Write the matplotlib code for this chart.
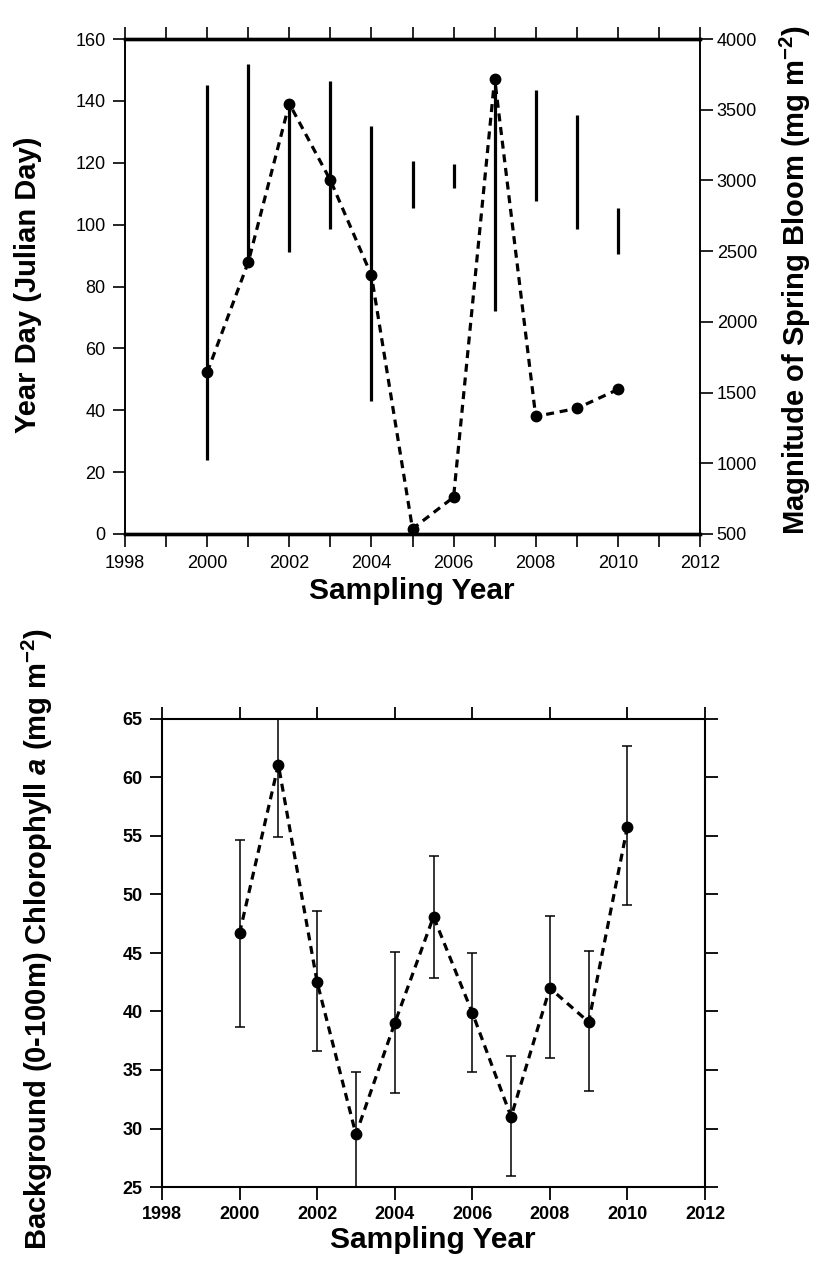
import numpy as np
import matplotlib
matplotlib.use('Agg')
import matplotlib.pyplot as plt

plt.rcParams['font.family'] = ['Liberation Sans', 'DejaVu Sans']
plt.rcParams['mathtext.fontset'] = 'custom'
plt.rcParams['mathtext.rm'] = 'Liberation Sans:bold'
plt.rcParams['mathtext.it'] = 'Liberation Sans:italic:bold'
plt.rcParams['mathtext.bf'] = 'Liberation Sans:bold'

############################# DATA #############################
years = [2000, 2001, 2002, 2003, 2004, 2005, 2006, 2007, 2008, 2009, 2010]

# spring bloom timing (year day range)
bloom_start = [24, 88, 91, 98.5, 43, 105.5, 112, 72, 107.5, 98.5, 90.5]
bloom_end = [145, 152, 139, 146.5, 132, 120.5, 119.5, 147, 143.5, 135.5, 105.5]

# magnitude of spring bloom (mg m-2)
magnitude = [1642, 2421, 3543, 3002, 2329, 537, 760, 3720, 1331, 1388, 1522]

# background chlorophyll a (mg m-2) with error range
chl = [46.7, 61.1, 42.5, 29.5, 39.0, 48.1, 39.9, 31.0, 42.0, 39.1, 55.8]
chl_lo = [38.7, 54.9, 36.6, 24.2, 33.0, 42.9, 34.8, 25.9, 36.0, 33.2, 49.1]
chl_hi = [54.7, 67.3, 48.6, 34.8, 45.1, 53.3, 45.0, 36.2, 48.2, 45.2, 62.7]

xticks = [1998, 2000, 2002, 2004, 2006, 2008, 2010, 2012]

W, H = 822, 1271
fig = plt.figure(figsize=(W / 100, H / 100), dpi=100)


def px_axes(x0, y0, x1, y1):
    return fig.add_axes([x0 / W, 1 - y1 / H, (x1 - x0) / W, (y1 - y0) / H])


############################# TOP PANEL #############################
ax1 = px_axes(125, 39, 700, 534)
ax1.vlines(years, bloom_start, bloom_end, color='black', lw=2.3)
ax1.set_xlim(1998, 2012)
ax1.set_ylim(0, 160)
ax1.set_xticks(xticks)
ax1.set_xticks(np.arange(1999, 2012, 2), minor=True)
ax1.set_yticks(np.arange(0, 161, 20))
ax1.tick_params(axis='x', which='both', direction='out', length=9, width=1.2,
                top=True, bottom=True, labelsize=13, pad=6)
ax1.tick_params(axis='y', direction='out', length=9, width=1.2, labelsize=13, pad=5)
for s in ['top', 'bottom']:
    ax1.spines[s].set_linewidth(2.4)
for s in ['left', 'right']:
    ax1.spines[s].set_linewidth(1.2)

ax2 = ax1.twinx()
ax2.plot(years, magnitude, color='black', lw=2.3, dashes=(2.5, 1.8),
         marker='o', markersize=7.5)
ax2.set_ylim(500, 4000)
ax2.set_yticks(np.arange(500, 4001, 500))
ax2.tick_params(axis='y', direction='out', length=9, width=1.2, labelsize=13, pad=3)
for s in ['top', 'bottom']:
    ax2.spines[s].set_linewidth(2.4)
for s in ['left', 'right']:
    ax2.spines[s].set_linewidth(1.2)

fig.text(28 / W, 1 - 285 / H, 'Year Day (Julian Day)', rotation=90,
         ha='center', va='center', fontsize=21, fontweight='bold')
fig.text(795 / W, 1 - 280 / H, r'Magnitude of Spring Bloom (mg m$^{-2}$)',
         rotation=90, ha='center', va='center', fontsize=21, fontweight='bold')
fig.text(412 / W, 1 - 591 / H, 'Sampling Year', ha='center', va='center',
         fontsize=21.5, fontweight='bold')

############################# BOTTOM PANEL #############################
ax3 = px_axes(162, 719, 705, 1187)
lo = np.array(chl) - np.array(chl_lo)
hi = np.array(chl_hi) - np.array(chl)
ax3.errorbar(years, chl, yerr=[lo, hi], color='black', lw=2.3, dashes=(2.5, 1.8),
             marker='o', markersize=7.5, ecolor='black', elinewidth=1.1,
             capsize=3.5, capthick=1.1)
ax3.set_xlim(1998, 2012)
ax3.set_ylim(25, 65)
ax3.set_xticks(xticks)
ax3.set_yticks(np.arange(25, 66, 5))
ax3.tick_params(axis='both', direction='out', length=9, width=1.3,
                top=True, right=True, labelsize=13, pad=5)
for lab in ax3.get_xticklabels() + ax3.get_yticklabels():
    lab.set_fontweight('bold')
for s in ax3.spines.values():
    s.set_linewidth(1.5)

fig.text(37 / W, 1 - 939 / H,
         r'Background (0-100m) Chlorophyll $\mathit{a}$ (mg m$^{-2}$)',
         rotation=90, ha='center', va='center', fontsize=21, fontweight='bold')
fig.text(433 / W, 1 - 1240 / H, 'Sampling Year', ha='center', va='center',
         fontsize=21.5, fontweight='bold')

fig.savefig('out.png', dpi=100)
